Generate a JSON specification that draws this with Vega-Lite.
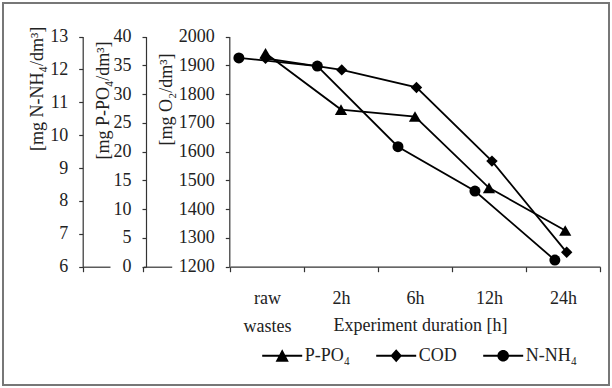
{
  "$schema": "https://vega.github.io/schema/vega-lite/v6.json",
  "width": 606,
  "height": 382,
  "padding": 3,
  "autosize": "none",
  "config": {
    "font": "Liberation Serif",
    "view": {"stroke": "#777", "strokeWidth": 2},
    "axis": {
      "domainColor": "#333", "tickColor": "#333", "labelColor": "#222", "titleColor": "#222",
      "labelFontSize": 18, "titleFontSize": 18, "titleFontWeight": "normal", "grid": false,
      "domainWidth": 1.2, "tickWidth": 1.2
    }
  },
  "data": {
    "values": [
      {"series": "P-PO₄", "duration": "raw wastes", "x": 0.48, "value": 37.1},
      {"series": "P-PO₄", "duration": "2h", "x": 1.5, "value": 27.3},
      {"series": "P-PO₄", "duration": "6h", "x": 2.5, "value": 26.1},
      {"series": "P-PO₄", "duration": "12h", "x": 3.5, "value": 13.7},
      {"series": "P-PO₄", "duration": "24h", "x": 4.53, "value": 6.3},
      {"series": "COD", "duration": "raw wastes", "x": 0.48, "value": 1924},
      {"series": "COD", "duration": "2h", "x": 1.51, "value": 1884},
      {"series": "COD", "duration": "6h", "x": 2.52, "value": 1823},
      {"series": "COD", "duration": "12h", "x": 3.54, "value": 1567},
      {"series": "COD", "duration": "24h", "x": 4.55, "value": 1250},
      {"series": "N-NH₄", "duration": "raw wastes", "x": 0.12, "value": 12.35},
      {"series": "N-NH₄", "duration": "2h", "x": 1.18, "value": 12.1},
      {"series": "N-NH₄", "duration": "6h", "x": 2.27, "value": 9.65},
      {"series": "N-NH₄", "duration": "12h", "x": 3.31, "value": 8.3},
      {"series": "N-NH₄", "duration": "24h", "x": 4.39, "value": 6.2}
    ]
  },
  "layer": [
    {
      "transform": [{"filter": "datum.series === 'P-PO₄'"}],
      "encoding": {
        "x": {
          "field": "x", "type": "quantitative",
          "scale": {"domain": [0, 5], "range": [227, 597], "nice": false, "zero": false},
          "axis": {
            "orient": "bottom", "offset": -118.3,
            "values": [0, 0.5, 1, 1.5, 2, 2.5, 3, 3.5, 4, 4.5, 5],
            "labelExpr": "datum.value === 0.5 ? ['raw','wastes'] : datum.value === 1.5 ? '2h' : datum.value === 2.5 ? '6h' : datum.value === 3.5 ? '12h' : datum.value === 4.5 ? '24h' : ''",
            "tickOpacity": {"condition": {"test": "datum.value % 1 === 0", "value": 1}, "value": 0},
            "tickSize": 5, "labelPadding": 18, "labelLineHeight": 28,
            "labelFlush": false, "labelOverlap": false,
            "title": "Experiment duration [h]", "titleX": 417, "titleY": 63.3,
            "titleBaseline": "alphabetic", "titleAlign": "center"
          }
        },
        "y": {
          "field": "value", "type": "quantitative",
          "scale": {"domain": [0, 40], "range": [263.7, 33.5], "nice": false, "zero": false},
          "axis": {
            "orient": "left", "offset": -143, "values": [0, 5, 10, 15, 20, 25, 30, 35, 40], "format": "d",
            "tickSize": 4, "labelPadding": 11,
            "title": "[mg P-PO₄/dm³]", "titleAngle": 270, "titleX": -43, "titleY": 97,
            "titleAlign": "center", "titleBaseline": "middle"
          }
        }
      },
      "layer": [
        {"mark": {"type": "line", "color": "black", "strokeWidth": 1.8}},
        {"mark": {"type": "point", "shape": "triangle-up", "filled": true, "color": "black", "opacity": 1, "size": 150}}
      ]
    },
    {
      "transform": [{"filter": "datum.series === 'COD'"}],
      "encoding": {
        "x": {
          "field": "x", "type": "quantitative",
          "scale": {"domain": [0, 5], "range": [227, 597], "nice": false, "zero": false},
          "axis": null
        },
        "y": {
          "field": "value", "type": "quantitative",
          "scale": {"domain": [1200, 2000], "range": [263.7, 33.5], "nice": false, "zero": false},
          "axis": {
            "orient": "left", "offset": -226.3,
            "values": [1200, 1300, 1400, 1500, 1600, 1700, 1800, 1900, 2000], "format": "d",
            "tickSize": 4, "labelPadding": 11,
            "title": "[mg O₂/dm³]", "titleAngle": 270, "titleX": -63.3, "titleY": 96,
            "titleAlign": "center", "titleBaseline": "middle"
          }
        }
      },
      "layer": [
        {"mark": {"type": "line", "color": "black", "strokeWidth": 1.8}},
        {"mark": {"type": "point", "shape": "diamond", "filled": true, "color": "black", "opacity": 1, "size": 130}}
      ]
    },
    {
      "transform": [{"filter": "datum.series === 'N-NH₄'"}],
      "encoding": {
        "x": {
          "field": "x", "type": "quantitative",
          "scale": {"domain": [0, 5], "range": [227, 597], "nice": false, "zero": false},
          "axis": null
        },
        "y": {
          "field": "value", "type": "quantitative",
          "scale": {"domain": [6, 13], "range": [263.7, 33.5], "nice": false, "zero": false},
          "axis": {
            "orient": "left", "offset": -79.7, "values": [6, 7, 8, 9, 10, 11, 12, 13], "format": "d",
            "tickSize": 4, "labelPadding": 11,
            "title": "[mg N-NH₄/dm³]", "titleAngle": 270, "titleX": -45.2, "titleY": 85.3,
            "titleAlign": "center", "titleBaseline": "middle"
          }
        }
      },
      "layer": [
        {"mark": {"type": "line", "color": "black", "strokeWidth": 1.8}},
        {"mark": {"type": "point", "shape": "circle", "filled": true, "color": "black", "opacity": 1, "size": 121}}
      ]
    },
    {
      "mark": {"type": "point", "filled": true, "color": "black", "opacity": 0},
      "encoding": {
        "shape": {
          "field": "series", "type": "nominal",
          "scale": {
            "domain": ["P-PO₄", "COD", "N-NH₄"],
            "range": [
              "M-1,-0.045H1V0.045H-1ZM-0.33,0.3L0,-0.33L0.33,0.3Z",
              "M-1,-0.045H1V0.045H-1ZM0,-0.32L0.29,0L0,0.32L-0.29,0Z",
              "M-1,-0.045H1V0.045H-1ZM0.29,0C0.29,0.16 0.16,0.29 0,0.29C-0.16,0.29 -0.29,0.16 -0.29,0C-0.29,-0.16 -0.16,-0.29 0,-0.29C0.16,-0.29 0.29,-0.16 0.29,0Z"
            ]
          },
          "legend": {
            "orient": "none", "legendX": 258.7, "legendY": 332, "direction": "horizontal",
            "title": null, "symbolSize": 1600, "labelFontSize": 18, "labelColor": "#222",
            "labelOffset": 2, "columnPadding": 23, "padding": 0,
            "symbolOpacity": 1, "symbolFillColor": "black", "symbolStrokeColor": "black",
            "symbolStrokeWidth": 1
          }
        }
      }
    },
    {
      "data": {"values": [{"a": 0}, {"a": 1}]},
      "mark": {"type": "point", "opacity": 0},
      "encoding": {
        "x": {
          "field": "a", "type": "quantitative",
          "scale": {"domain": [0, 1], "range": [79.7, 107], "nice": false, "zero": false},
          "axis": {"orient": "bottom", "offset": -118.3, "values": [0], "labels": false, "tickSize": 5, "title": null}
        }
      }
    },
    {
      "data": {"values": [{"a": 0}, {"a": 1}]},
      "mark": {"type": "point", "opacity": 0},
      "encoding": {
        "x": {
          "field": "a", "type": "quantitative",
          "scale": {"domain": [0, 1], "range": [140.3, 168.7], "nice": false, "zero": false},
          "axis": {"orient": "bottom", "offset": -118.3, "values": [0], "labels": false, "tickSize": 5, "title": null}
        }
      }
    }
  ],
  "resolve": {
    "scale": {"x": "independent", "y": "independent"},
    "axis": {"x": "independent", "y": "independent"}
  }
}
